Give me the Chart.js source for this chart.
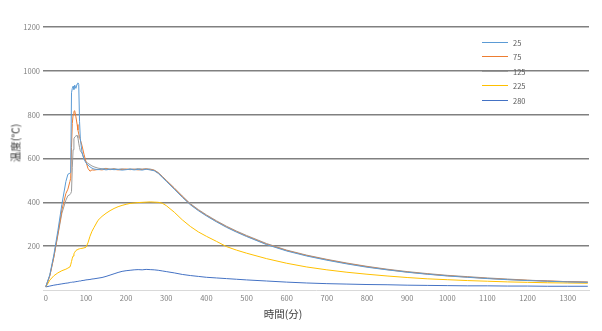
<!DOCTYPE html>
<html>
<head>
<meta charset="utf-8">
<script src="https://cdn.jsdelivr.net/npm/chart.js@4.4.1/dist/chart.umd.min.js"></script>
<style>
  body { margin: 0; background: #fff; }
  #wrap { position: relative; width: 602px; height: 331px; }
  .ttl { position: absolute; font-family: "Noto Sans CJK JP", sans-serif; font-size: 10.5px; color: #404040; white-space: nowrap; }
  #ytitle { left: 15px; top: 143px; transform: translate(-50%, -50%) rotate(-90deg); }
  #xtitle { left: 283px; top: 313px; transform: translate(-50%, -50%); }
  #legend { position: absolute; left: 482px; top: 35px; font-family: "Noto Sans CJK JP", sans-serif; font-size: 7.5px; color: #595959; }
  .row { height: 14.5px; display: flex; align-items: center; }
  .sw { width: 26px; height: 1px; margin-right: 5px; }
</style>
</head>
<body>
<div id="wrap">
  <canvas id="myChart" width="602" height="331"></canvas>
  <div class="ttl" id="ytitle">温度(℃)</div>
  <div class="ttl" id="xtitle">時間(分)</div>
  <div id="legend"></div>
</div>
<script>
// 時間(分)
const minutos = [0,10,20,30,40,50,55,60,62,64,66,68,70,72,75,78,80,82,84,86,90,95,100,105,110,115,120,
  130,140,150,160,170,180,190,200,210,220,230,240,250,260,270,280,290,300,
  320,340,360,380,400,425,450,475,500,
  550,600,650,700,750,800,850,900,950,1000,1050,1100,1150,1200,1250,1300,1350];

const ticksX = [0,100,200,300,400,500,600,700,800,900,1000,1100,1200,1300];
const ticksY = [200,400,600,800,1000,1200];

const nombres = ['25', '75', '125', '225', '280'];
const colores = ['#5B9BD5', '#ED7D31', '#9A9A9A', '#FFC000', '#4472C4'];

// 温度(℃)
const temp25 = [15,70,160,270,390,495,528,533,536,900,920,930,915,935,920,940,945,938,770,690,630,598,580,570,562,556,552,
  549,552,548,551,549,550,547,549,551,548,550,547,551,548,544,532,514,496,
  460,423,389,362,338,311,286,264,244,
  207,178,155,136,119,104,92,81,72,64,58,52,47,43,40,37,35];
const temp75 = [15,65,150,255,365,440,460,495,510,650,760,800,815,818,790,755,730,712,700,685,660,620,585,555,542,548,547,
  550,548,552,549,551,548,550,552,549,551,548,550,552,549,546,534,516,498,
  463,426,391,364,340,313,288,266,246,
  209,180,157,138,121,106,93,82,73,65,59,53,48,44,41,38,36];
const temp125 = [15,65,150,250,350,410,430,435,440,450,560,640,690,698,703,705,695,670,650,635,625,600,585,578,572,566,562,
  556,553,555,552,554,551,553,550,553,551,554,552,553,552,547,536,519,501,
  466,429,394,367,343,316,291,269,249,
  212,182,159,140,123,108,95,84,75,67,61,55,50,45,41,38,36];
const temp225 = [14,45,65,78,88,95,100,105,115,130,145,155,165,172,180,184,186,187,188,189,190,192,195,215,245,268,285,
  318,336,350,362,372,380,386,391,395,397,399,400,401,402,401,400,396,385,
  355,320,290,265,245,222,198,182,168,
  143,122,105,92,81,72,64,57,51,47,43,40,37,35,33,32,31];
const temp280 = [14,18,22,25,28,31,32,34,35,35,36,36,37,37,38,39,40,40,41,41,43,44,46,47,48,50,51,
  54,57,62,68,74,80,85,88,90,92,93,92,94,93,92,90,87,84,
  78,71,66,62,58,55,52,49,46,
  41,36,32,29,27,25,24,22,21,20,19,19,18,18,17,17,17];

const series = [temp25, temp75, temp125, temp225, temp280];

const datasets = series.map((valores, i) => ({
  label: nombres[i],
  data: valores.map((v, j) => ({ x: minutos[j], y: v })),
  borderColor: colores[i],
  backgroundColor: colores[i],
  borderWidth: 1,
  pointRadius: 0,
  tension: 0,
  fill: false
}));

// leyenda
let template = '';
nombres.forEach((n, i) => {
  template += `<div class="row"><div class="sw" style="background:${colores[i]}"></div><span>${n}</span></div>`;
});
document.querySelector('#legend').innerHTML = template;

const ctx = document.getElementById('myChart');
new Chart(ctx, {
  type: 'line',
  data: { datasets: datasets },
  options: {
    responsive: false,
    animation: false,
    layout: { padding: { left: 0, right: 13, top: 27, bottom: 0 } },
    plugins: { legend: { display: false }, tooltip: { enabled: false } },
    scales: {
      x: {
        type: 'linear',
        min: -7,
        max: 1353,
        grid: { display: false, drawTicks: false },
        border: { display: true, color: '#D9D9D9', width: 1 },
        afterBuildTicks: (axis) => { axis.ticks = ticksX.map(v => ({ value: v })); },
        afterFit: (scale) => { scale.height = 41; },
        ticks: {
          maxRotation: 0,
          autoSkip: false,
          padding: 4,
          color: '#7F7F7F',
          font: { family: 'Noto Sans CJK JP', size: 7.5 },
          callback: (v) => String(v)
        }
      },
      y: {
        min: 0,
        max: 1200,
        grid: {
          color: '#808080',
          lineWidth: 1.5,
          drawTicks: false
        },
        border: { display: false },
        afterBuildTicks: (axis) => { axis.ticks = ticksY.map(v => ({ value: v })); },
        afterFit: (scale) => { scale.width = 43; },
        ticks: {
          padding: 3,
          color: '#7F7F7F',
          font: { family: 'Noto Sans CJK JP', size: 7.5 },
          callback: (v) => String(v)
        }
      }
    }
  }
});
</script>
</body>
</html>
